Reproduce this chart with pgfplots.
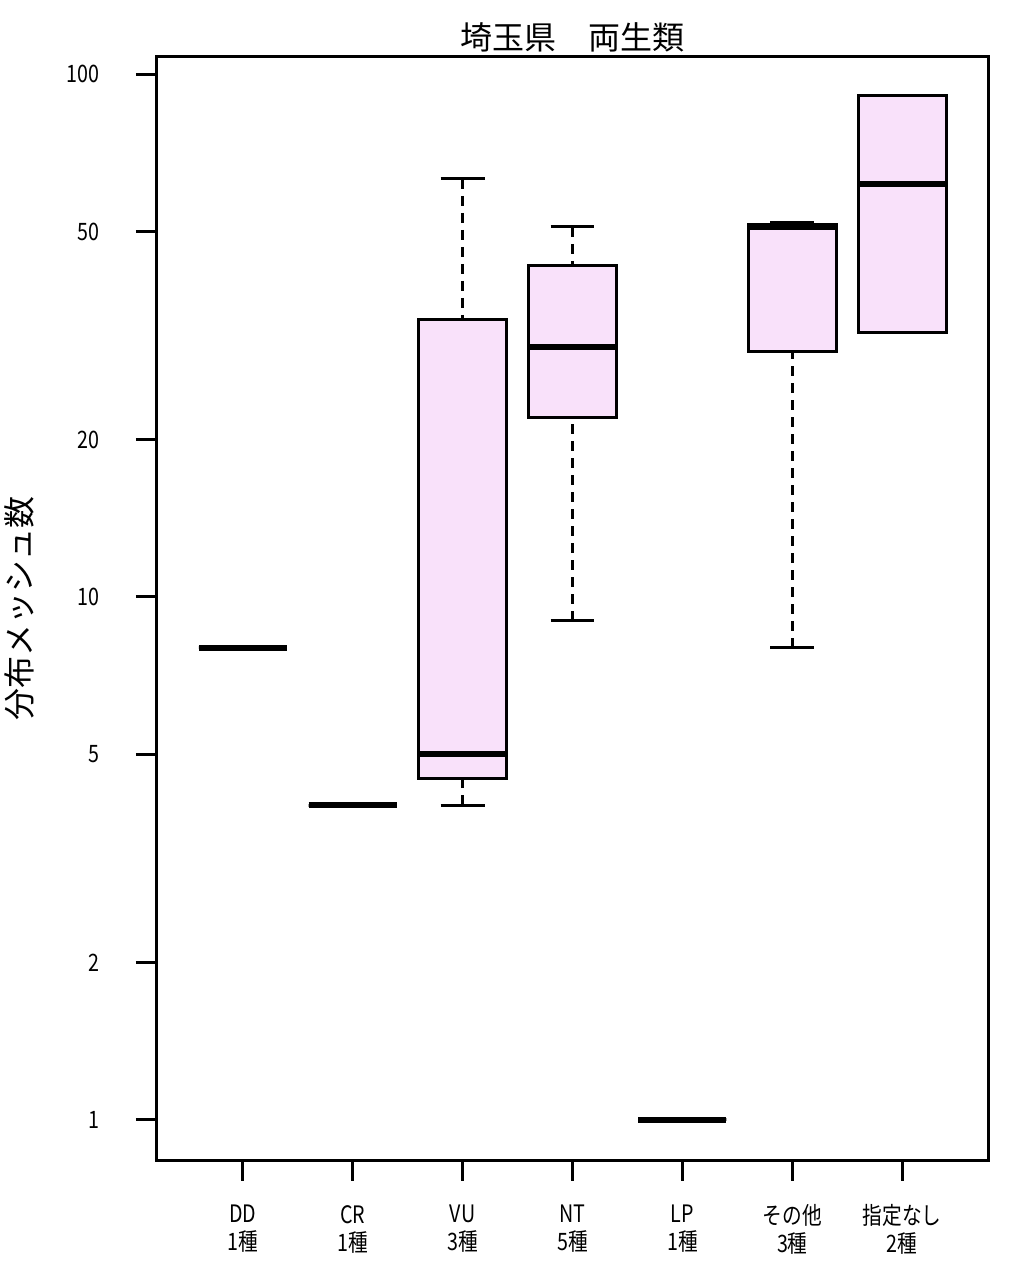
\documentclass[border=0pt]{standalone}
\usepackage{pgfplots}
\pgfplotsset{compat=1.18}
\usepgfplotslibrary{statistics}
\usepackage{fontspec}
\setmainfont{Noto Sans CJK JP}
\newfontfamily\tickfont{Noto Sans CJK JP}[FakeStretch=0.82]
\definecolor{boxpink}{RGB}{249,225,250}

\pgfplotsset{
  rbox/.style={
    boxplot/draw direction=y,
    boxplot/box extend=0.8,
    boxplot/whisker extend=0.4,
    boxplot/every box/.style={draw=black, fill=boxpink, line width=1.5pt},
    boxplot/every median/.style={draw=black, line width=3pt},
    boxplot/draw/lower whisker/.code={%
      \draw[black, line width=1.5pt, dash pattern=on 5pt off 3.5pt]
        (boxplot box cs:\pgfplotsboxplotvalue{lower whisker},0.5) --
        (boxplot box cs:\pgfplotsboxplotvalue{lower quartile},0.5);
      \draw[black, line width=1.5pt]
        (boxplot whisker cs:\pgfplotsboxplotvalue{lower whisker},0) --
        (boxplot whisker cs:\pgfplotsboxplotvalue{lower whisker},1);
    },
    boxplot/draw/upper whisker/.code={%
      \draw[black, line width=1.5pt, dash pattern=on 5pt off 3.5pt]
        (boxplot box cs:\pgfplotsboxplotvalue{upper whisker},0.5) --
        (boxplot box cs:\pgfplotsboxplotvalue{upper quartile},0.5);
      \draw[black, line width=1.5pt]
        (boxplot whisker cs:\pgfplotsboxplotvalue{upper whisker},0) --
        (boxplot whisker cs:\pgfplotsboxplotvalue{upper whisker},1);
    },
  },
}

\begin{document}
\begin{tikzpicture}
\begin{axis}[
    at={(0,0)}, anchor=south west,
    scale only axis,
    width=415.5pt, height=551.5pt,
    ymode=log,
    xmin=0.22, xmax=7.78,
    ymin=0.838, ymax=107.8,
    xtick={1,2,3,4,5,6,7},
    xticklabels={{DD\\1種},{CR\\1種},{VU\\3種},{NT\\5種},{LP\\1種},{その他\\3種},{指定なし\\2種}},
    ytick={1,2,5,10,20,50,100},
    yticklabels={1,2,5,10,20,50,100},
    yminorticks=false,
    xtick pos=bottom, ytick pos=left,
    tick align=outside,
    major tick length=10.5pt,
    tick style={black, line width=1.5pt},
    axis line style={black, line width=1.5pt},
    xticklabel style={font=\tickfont\fontsize{12}{14}\selectfont, align=center, anchor=center, yshift=-24pt},
    yticklabel style={font=\tickfont\fontsize{12}{14}\selectfont, anchor=east, xshift=-15pt},
    title={埼玉県　両生類},
    title style={font=\fontsize{16}{18}\selectfont, at={(axis description cs:0.5,1)}, anchor=center, yshift=4pt},
    ylabel={分布メッシュ数},
    ylabel style={font=\fontsize{16}{18}\selectfont, at={(axis description cs:-0.165,0.5)}, anchor=center},
]
% DD
\addplot[rbox, boxplot prepared={lower whisker=8, lower quartile=8, median=8,
  upper quartile=8, upper whisker=8, draw position=1}] coordinates {};
% CR
\addplot[rbox, boxplot prepared={lower whisker=4, lower quartile=4, median=4,
  upper quartile=4, upper whisker=4, draw position=2}] coordinates {};
% VU
\addplot[rbox, boxplot prepared={lower whisker=4, lower quartile=4.5, median=5,
  upper quartile=34, upper whisker=63, draw position=3}] coordinates {};
% NT
\addplot[rbox, boxplot prepared={lower whisker=9, lower quartile=22, median=30,
  upper quartile=43, upper whisker=51, draw position=4}] coordinates {};
% LP
\addplot[rbox, boxplot prepared={lower whisker=1, lower quartile=1, median=1,
  upper quartile=1, upper whisker=1, draw position=5}] coordinates {};
% その他
\addplot[rbox, boxplot prepared={lower whisker=8, lower quartile=29.5, median=51,
  upper quartile=51.5, upper whisker=52, draw position=6}] coordinates {};
% 指定なし
\addplot[rbox, boxplot prepared={lower whisker=32, lower quartile=32, median=61.5,
  upper quartile=91, upper whisker=91, draw position=7}] coordinates {};
\end{axis}
\pgfresetboundingbox
\path (-78.5pt,-54pt) rectangle (428.5pt,580pt);
\end{tikzpicture}
\end{document}
